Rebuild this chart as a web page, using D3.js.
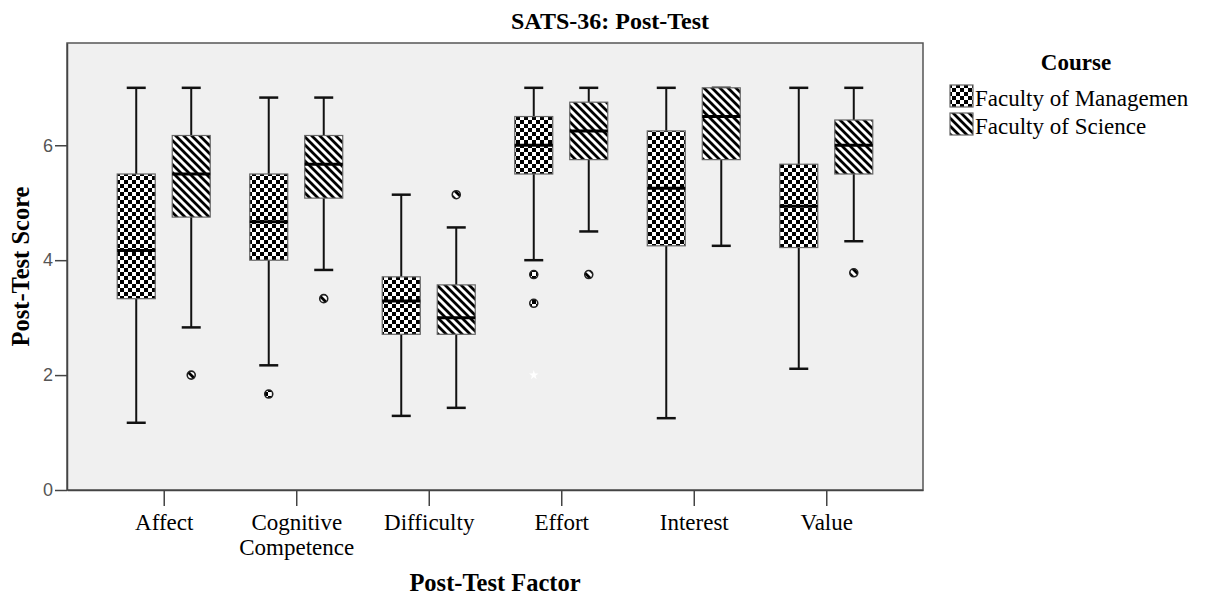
<!DOCTYPE html>
<html>
<head>
<meta charset="utf-8">
<script src="https://cdn.jsdelivr.net/npm/d3@7"></script>
<style>
  body { margin: 0; background: #fff; }
  svg { display: block; }
</style>
</head>
<body>
<svg id="chart" width="1207" height="597"></svg>
<script>
// SATS-36 post-test boxplots, two courses per factor

const factors = ['Affect', 'Cognitive Competence', 'Difficulty', 'Effort', 'Interest', 'Value'];
const courses = ['Faculty of Managemen', 'Faculty of Science'];

// [lower whisker, Q1, median, Q3, upper whisker] per factor
const mgmtStats = [
    [1.17, 3.33, 4.17, 5.5, 7.0],
    [2.17, 4.0, 4.67, 5.5, 6.83],
    [1.29, 2.71, 3.29, 3.71, 5.14],
    [4.0, 5.5, 6.0, 6.5, 7.0],
    [1.25, 4.25, 5.25, 6.25, 7.0],
    [2.11, 4.22, 4.94, 5.67, 7.0]
];
const sciStats = [
    [2.83, 4.75, 5.5, 6.17, 7.0],
    [3.83, 5.08, 5.67, 6.17, 6.83],
    [1.43, 2.71, 3.0, 3.57, 4.57],
    [4.5, 5.75, 6.25, 6.75, 7.0],
    [4.25, 5.75, 6.5, 7.0, 7.0],
    [4.33, 5.5, 6.0, 6.44, 7.0]
];

// outliers (circles) and extremes (stars)
const mgmtOutliers = [[], [1.67], [], [3.75, 3.25], [], []];
const sciOutliers = [[2.0], [3.33], [5.14], [3.75], [], [3.78]];
const mgmtExtremes = [[], [], [], [2.0], [], []];

const yTicks = [0, 2, 4, 6];

const svg = d3.select('#chart');
const plotLeft = 67, plotRight = 923, plotTop = 43, plotBottom = 490;

const x = d3.scalePoint()
    .domain(factors)
    .range([plotLeft, plotRight])
    .padding(0.73);

const offset = d3.scalePoint()
    .domain(courses)
    .range([-27.5, 27.5]);

const y = d3.scaleLinear()
    .domain([0, 7.78])
    .range([plotBottom, plotTop]);

const serif = '"Liberation Serif", "Times New Roman", serif';
const sans = '"Liberation Sans", Arial, sans-serif';

// fill patterns
const defs = svg.append('defs');
const checker = defs.append('pattern')
    .attr('id', 'checker')
    .attr('patternUnits', 'userSpaceOnUse')
    .attr('width', 8).attr('height', 8);
checker.append('rect').attr('width', 8).attr('height', 8).attr('fill', '#fff');
checker.append('rect').attr('width', 4).attr('height', 4).attr('fill', '#000');
checker.append('rect').attr('x', 4).attr('y', 4).attr('width', 4).attr('height', 4).attr('fill', '#000');

const hatch = defs.append('pattern')
    .attr('id', 'hatch')
    .attr('patternUnits', 'userSpaceOnUse')
    .attr('width', 8).attr('height', 8);
hatch.append('rect').attr('width', 8).attr('height', 8).attr('fill', '#fff');
hatch.append('path')
    .attr('d', 'M-2,6 L2,10 M0,0 L8,8 M6,-2 L10,2')
    .attr('stroke', '#000')
    .attr('stroke-width', 2.8);

const fills = { 'Faculty of Managemen': 'url(#checker)', 'Faculty of Science': 'url(#hatch)' };

// plot background
svg.append('rect')
    .attr('x', plotLeft).attr('y', plotTop)
    .attr('width', plotRight - plotLeft).attr('height', plotBottom - plotTop)
    .attr('fill', '#f0f0f0')
    .attr('stroke', '#555')
    .attr('stroke-width', 1.5);

// axes
const yAxis = svg.append('g')
    .attr('transform', `translate(${plotLeft},0)`)
    .call(d3.axisLeft(y).tickValues(yTicks).tickSize(12).tickSizeOuter(0)
        .tickPadding(2).tickFormat(d3.format('d')));
yAxis.select('.domain').attr('stroke', '#444').attr('stroke-width', 1.5);
yAxis.selectAll('line').attr('stroke', '#444').attr('stroke-width', 1.5);
yAxis.selectAll('text')
    .attr('font-family', sans)
    .attr('font-size', 18)
    .attr('fill', '#555');

const xAxis = svg.append('g')
    .attr('transform', `translate(0,${plotBottom})`)
    .call(d3.axisBottom(x).tickSize(16).tickSizeOuter(0).tickFormat(''));
xAxis.select('.domain').attr('stroke', '#444').attr('stroke-width', 1.5);
xAxis.selectAll('line').attr('stroke', '#444').attr('stroke-width', 1.5);
xAxis.selectAll('.tick').each(function (d) {
    const words = d.split(' ');
    const t = d3.select(this).append('text')
        .attr('font-family', serif)
        .attr('font-size', 23)
        .attr('fill', '#000')
        .attr('text-anchor', 'middle');
    words.forEach((w, i) => {
        t.append('tspan').attr('x', 0).attr('y', 40 + i * 25).text(w);
    });
});

// boxes
const groups = [
    { course: courses[0], stats: mgmtStats, outliers: mgmtOutliers, extremes: mgmtExtremes },
    { course: courses[1], stats: sciStats, outliers: sciOutliers, extremes: factors.map(() => []) }
];

const boxW = 38, capW = 19;

groups.forEach(g => {
    const layer = svg.append('g');
    factors.forEach((f, i) => {
        const [lo, q1, med, q3, hi] = g.stats[i];
        const cx = x(f) + offset(g.course);
        const b = layer.append('g');
        // whiskers
        b.append('line')
            .attr('x1', cx).attr('x2', cx)
            .attr('y1', y(hi)).attr('y2', y(q3))
            .attr('stroke', '#111').attr('stroke-width', 2);
        b.append('line')
            .attr('x1', cx).attr('x2', cx)
            .attr('y1', y(q1)).attr('y2', y(lo))
            .attr('stroke', '#111').attr('stroke-width', 2);
        [lo, hi].forEach(v => {
            b.append('line')
                .attr('x1', cx - capW / 2).attr('x2', cx + capW / 2)
                .attr('y1', y(v)).attr('y2', y(v))
                .attr('stroke', '#111').attr('stroke-width', 2.5);
        });
        // box
        b.append('rect')
            .attr('x', cx - boxW / 2)
            .attr('y', y(q3))
            .attr('width', boxW)
            .attr('height', y(q1) - y(q3))
            .attr('fill', fills[g.course])
            .attr('stroke', '#666')
            .attr('stroke-width', 1.2);
        b.append('line')
            .attr('x1', cx - boxW / 2).attr('x2', cx + boxW / 2)
            .attr('y1', y(med)).attr('y2', y(med))
            .attr('stroke', '#000').attr('stroke-width', 3);
        // outliers
        g.outliers[i].forEach(v => {
            b.append('circle')
                .attr('cx', cx).attr('cy', y(v))
                .attr('r', 4)
                .attr('fill', fills[g.course])
                .attr('stroke', '#222')
                .attr('stroke-width', 1.6);
        });
        g.extremes[i].forEach(v => {
            b.append('path')
                .attr('transform', `translate(${cx},${y(v)})`)
                .attr('d', d3.symbol(d3.symbolStar, 28)())
                .attr('fill', '#fff');
        });
    });
});

// title and axis titles
svg.append('text')
    .attr('x', 610).attr('y', 29)
    .attr('text-anchor', 'middle')
    .attr('font-family', serif)
    .attr('font-weight', 'bold')
    .attr('font-size', 24)
    .text('SATS-36: Post-Test');

svg.append('text')
    .attr('x', (plotLeft + plotRight) / 2).attr('y', 591)
    .attr('text-anchor', 'middle')
    .attr('font-family', serif)
    .attr('font-weight', 'bold')
    .attr('font-size', 24.5)
    .text('Post-Test Factor');

svg.append('text')
    .attr('transform', `translate(29,${(plotTop + plotBottom) / 2}) rotate(-90)`)
    .attr('text-anchor', 'middle')
    .attr('font-family', serif)
    .attr('font-weight', 'bold')
    .attr('font-size', 24.5)
    .text('Post-Test Score');

// legend
const legend = svg.append('g');
legend.append('text')
    .attr('x', 1076).attr('y', 70)
    .attr('text-anchor', 'middle')
    .attr('font-family', serif)
    .attr('font-weight', 'bold')
    .attr('font-size', 23)
    .text('Course');

courses.forEach((c, i) => {
    const ly = 85 + i * 28;
    legend.append('rect')
        .attr('x', 950).attr('y', ly)
        .attr('width', 23).attr('height', 22)
        .attr('fill', fills[c])
        .attr('stroke', '#666')
        .attr('stroke-width', 1.2);
    legend.append('text')
        .attr('x', 975).attr('y', ly + 21)
        .attr('font-family', serif)
        .attr('font-size', 23)
        .text(c);
});
</script>
</body>
</html>
